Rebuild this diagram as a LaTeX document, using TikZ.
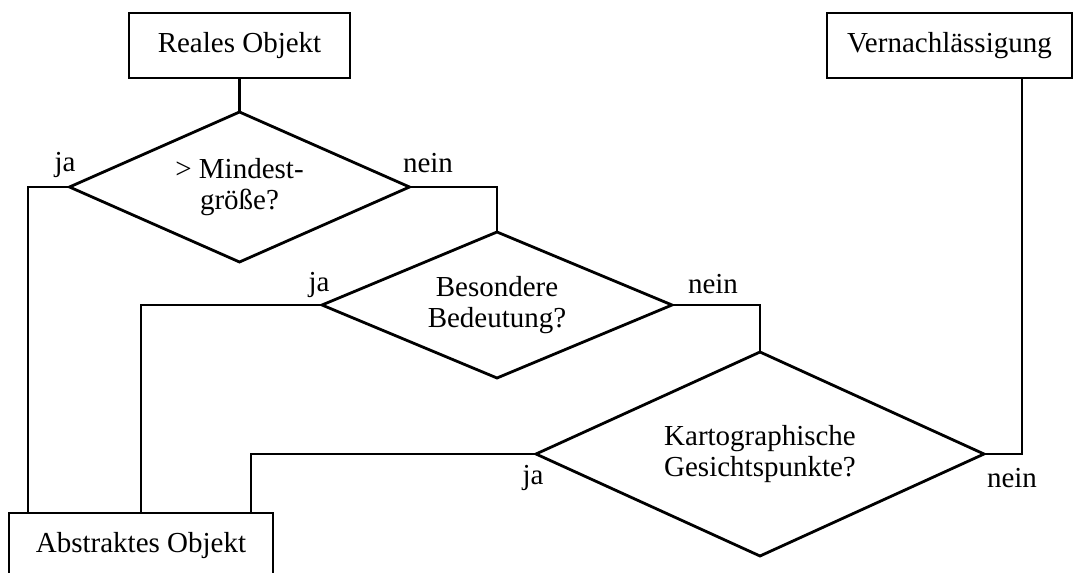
\documentclass[tikz,border=0pt]{standalone}
\usepackage{fontspec}
\setmainfont{Liberation Serif}
\usetikzlibrary{shapes.geometric}
\tikzset{
  kasten/.style={draw, rectangle, minimum width=#1, minimum height=32.5pt, inner sep=0pt, outer sep=0pt},
  frage/.style={draw, diamond, align=center, inner sep=0pt, outer sep=0pt},
  every node/.append style={font=\fontsize{14.5}{15.5}\selectfont}
}

\begin{document}
\begin{tikzpicture}[x=0.5pt,y=-0.5pt,line width=1.4pt]
\useasboundingbox (0,0) rectangle (1074,572);
\clip (0,0) rectangle (1074,572);
% Kaesten
\node[kasten=110.5pt] (r) at (239.5,45.5) {Reales Objekt};
\node[kasten=122.5pt] (v) at (949.5,45.5) {Vernachlässigung};
\node[kasten=132pt]   (a) at (141,545.5)  {Abstraktes Objekt};
% Fragen
\node[frage, minimum width=170pt, minimum height=75pt, shape aspect=2.3] (f1) at (239.5,187) {> Mindest-\\größe?};
\node[frage, minimum width=175pt, minimum height=73pt, shape aspect=2.4] (f2) at (497,305) {Besondere\\Bedeutung?};
\node[frage, minimum width=224pt, minimum height=102pt, shape aspect=2.2] (f3) at (760,454) {Kartographische\\Gesichtspunkte?};
% Antworten
\node (j1) at (65,165)   {ja};
\node (n1) at (428,163)  {nein};
\node (j2) at (319,285)  {ja};
\node (n2) at (713,284)  {nein};
\node (j3) at (533,478)  {ja};
\node (n3) at (1012,478) {nein};
% Linien
\coordinate (k1) at (28,187);
\coordinate (k2) at (497,187);
\coordinate (k3) at (141,305);
\coordinate (k4) at (760,305);
\coordinate (k5) at (251,454);
\coordinate (k6) at (1022,454);
\draw (r) -- (f1);
\draw (f1.west) -- (k1) -- (k1 |- a.north);
\draw (f1.east) -- (k2) -- (f2.north);
\draw (f2.west) -- (k3) -- (k3 |- a.north);
\draw (f2.east) -- (k4) -- (f3.north);
\draw (f3.west) -- (k5) -- (k5 |- a.north);
\draw (f3.east) -- (k6) -- (k6 |- v.south);
\end{tikzpicture}
\end{document}
